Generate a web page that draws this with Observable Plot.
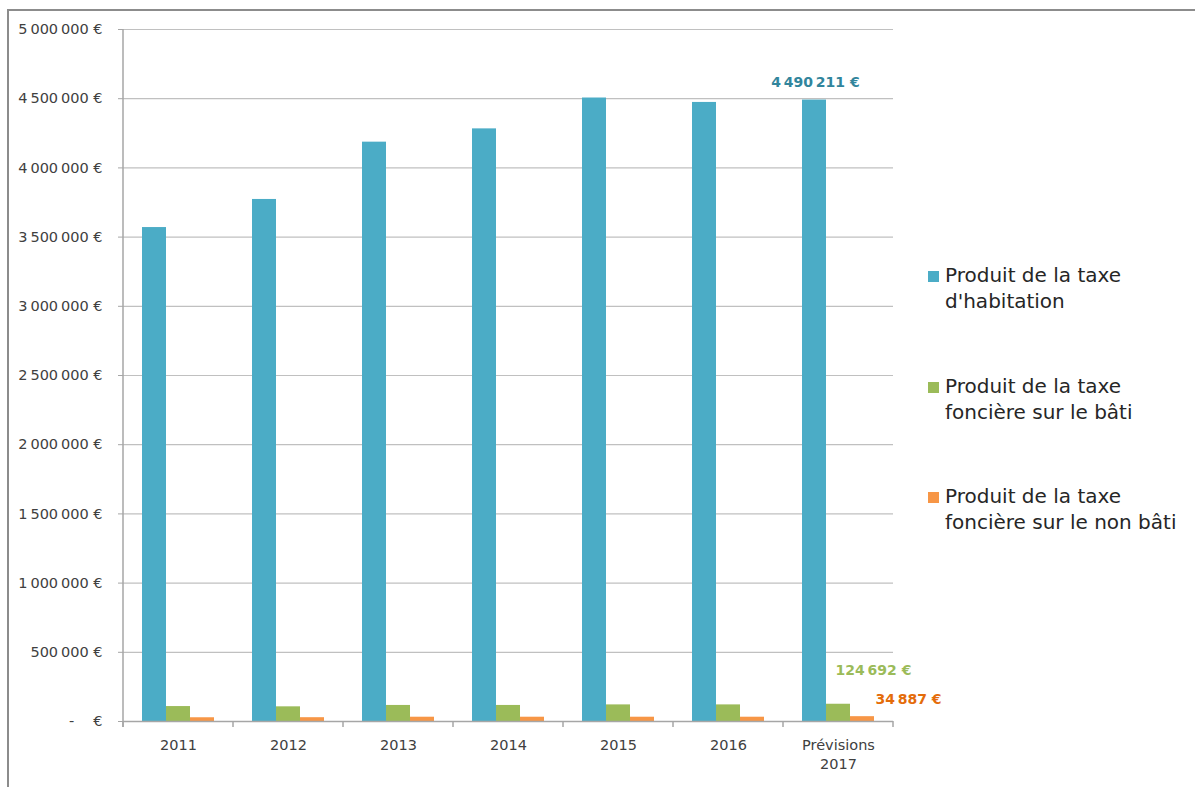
<!DOCTYPE html>
<html lang="fr">
<head>
<meta charset="utf-8">
<script src="https://cdn.jsdelivr.net/npm/d3@7"></script>
<script src="https://cdn.jsdelivr.net/npm/@observablehq/plot@0.6"></script>
<style>
  html, body { margin: 0; padding: 0; background: #fff; }
  #wrap { position: relative; width: 1195px; height: 787px; overflow: hidden; font-family: "DejaVu Sans", sans-serif; }
  #frame { position: absolute; left: 7px; top: 9px; width: 2000px; height: 2000px; border-left: 2px solid #8c8c8c; border-top: 2px solid #8c8c8c; }
  #chart { position: absolute; left: 0; top: 0; }
  .leg { position: absolute; left: 928px; font-size: 20px; line-height: 25.5px; color: #262626; }
  .leg .sw { position: absolute; left: 0; top: 8px; width: 11px; height: 11px; }
  .leg .tx { margin-left: 17px; white-space: nowrap; }
</style>
</head>
<body>
<div id="wrap">
  <div id="frame"></div>
  <div id="chart"></div>
  <div id="legend"></div>
</div>
<script>
// ---- data ----
const years = ["2011", "2012", "2013", "2014", "2015", "2016", "Prévisions\n2017"];
const seriesNames = [
  "Produit de la taxe d'habitation",
  "Produit de la taxe foncière sur le bâti",
  "Produit de la taxe foncière sur le non bâti"
];
const legendLines = [
  ["Produit de la taxe", "d'habitation"],
  ["Produit de la taxe", "foncière sur le bâti"],
  ["Produit de la taxe", "foncière sur le non bâti"]
];
const habitation = [3569000, 3772000, 4186000, 4282000, 4505000, 4473000, 4490211];
const fonciereBati = [108000, 106000, 116000, 116000, 120000, 120000, 124692];
const fonciereNonBati = [27000, 27500, 31000, 31000, 31000, 31000, 34887];
const yTicks = [0, 500000, 1000000, 1500000, 2000000, 2500000, 3000000, 3500000, 4000000, 4500000, 5000000];
const colors = ["#4BACC6", "#9BBB59", "#F79646"];
const labelColors = ["#31859C", "#9BBB59", "#E46C0A"];

// ---- tidy table ----
const seriesValues = [habitation, fonciereBati, fonciereNonBati];
const data = [];
years.forEach((yr, i) => {
  seriesNames.forEach((s, j) => data.push({year: yr, series: s, value: seriesValues[j][i], idx: j}));
});
const lastYear = years[years.length - 1];
const labelData = data.filter(d => d.year === lastYear);

const loc = d3.formatLocale({decimal: ",", thousands: "\u2009", grouping: [3], currency: ["", "\u00a0€"]});
const num = loc.format(",d");
const yFmt = d => d === 0 ? "-\u2003\u00a0€" : num(d) + "\u00a0€";

const W = 1195, H = 787;
const plot = Plot.plot({
  width: W,
  height: H,
  marginLeft: 120,
  marginRight: 300,
  marginTop: 29,
  marginBottom: 66,
  style: {fontFamily: "DejaVu Sans, sans-serif", color: "#404040", background: "transparent", overflow: "visible"},
  fx: {domain: years, padding: 0},
  x: {domain: seriesNames, paddingInner: 0, paddingOuter: 0.74, axis: null},
  y: {domain: [0, 5000000]},
  color: {domain: seriesNames, range: colors},
  marks: [
    Plot.gridY(yTicks, {stroke: "#c0c0c0", strokeOpacity: 1, strokeWidth: 1.2}),
    Plot.axisY({ticks: yTicks, tickSize: 5, tickPadding: 16, tickFormat: yFmt, stroke: "#a6a6a6", strokeOpacity: 1, fontSize: 14.5, label: null}),
    Plot.barY(data, {fx: "year", x: "series", y: "value", fill: "series", inset: 0}),
    Plot.ruleY([0], {stroke: "#a6a6a6", strokeWidth: 1.5}),
    Plot.axisFx({anchor: "bottom", tickSize: 0, tickPadding: 15, label: null, fontSize: 14.5, lineHeight: 1.3}),
    Plot.text(labelData.filter(d => d.idx === 0), {fx: "year", x: "series", y: "value", text: d => num(d.value) + "\u00a0€", fill: labelColors[0], fontWeight: "bold", fontSize: 14, dx: 1, dy: -18}),
    Plot.text(labelData.filter(d => d.idx === 1), {fx: "year", x: "series", y: "value", text: d => num(d.value) + "\u00a0€", fill: labelColors[1], fontWeight: "bold", fontSize: 14, dx: 35, dy: -34}),
    Plot.text(labelData.filter(d => d.idx === 2), {fx: "year", x: "series", y: "value", text: d => num(d.value) + "\u00a0€", fill: labelColors[2], fontWeight: "bold", fontSize: 14, dx: 46, dy: -17})
  ]
});
document.getElementById("chart").appendChild(plot);

// ---- axis line and category separators from the library's scales ----
const fx = plot.scale("fx");
const y = plot.scale("y");
const svg = d3.select(plot);
const y0 = y.apply(0), yTop = y.apply(5000000);
const bounds = years.map(d => fx.apply(d));
bounds.push(fx.apply(lastYear) + fx.bandwidth);
const g = svg.append("g").attr("stroke", "#a6a6a6").attr("stroke-width", 1.5);
g.append("line").attr("x1", bounds[0]).attr("x2", bounds[0]).attr("y1", yTop).attr("y2", y0 + 6);
bounds.forEach(b => g.append("line").attr("x1", b).attr("x2", b).attr("y1", y0).attr("y2", y0 + 6));

// ---- legend ----
const tops = [263, 374, 484];
const legend = document.getElementById("legend");
seriesNames.forEach((s, i) => {
  const item = document.createElement("div");
  item.className = "leg";
  item.style.top = tops[i] + "px";
  item.innerHTML = `<div class="sw" style="background:${colors[i]}"></div><div class="tx">${legendLines[i].join("<br>")}</div>`;
  legend.appendChild(item);
});
</script>
</body>
</html>
